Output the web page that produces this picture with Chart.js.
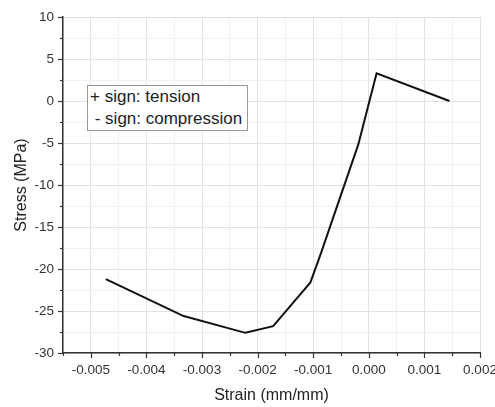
<!DOCTYPE html>
<html>
<head>
<meta charset="utf-8">
<script src="https://cdn.jsdelivr.net/npm/chart.js@4/dist/chart.umd.min.js"></script>
<style>
  html, body { margin: 0; padding: 0; background: #fff; overflow: hidden; }
  #wrap { position: relative; width: 495px; height: 407px; }
  #note {
    position: absolute; left: 87px; top: 85px; width: 157px; height: 44px;
    border: 1px solid #999; background: #fff;
    font-family: "Liberation Sans", Arial, sans-serif; font-size: 17px; line-height: 22px;
    color: #222; white-space: pre; padding-left: 2px; box-sizing: content-box;
  }
</style>
</head>
<body>
<div id="wrap">
  <canvas id="c" width="495" height="407"></canvas>
  <div id="note">+ sign: tension
 - sign: compression</div>
</div>
<script>
const strain = [-0.00473, -0.00333, -0.00222, -0.00172, -0.00105, -0.00086, -0.00019, 0.00014, 0.00145];
const stress = [-21.2, -25.6, -27.6, -26.8, -21.6, -18.1, -5.2, 3.3, 0.0];
const xMin = -0.0055, xMax = 0.002, xStep = 0.0005, xMajor = 0.001;
const yMin = -30, yMax = 10, yStep = 2.5, yMajor = 5;
const xTitle = 'Strain (mm/mm)';
const yTitle = 'Stress (MPa)';

const FONT = '"Liberation Sans", Arial, sans-serif';
const isMajor = (v, m) => Math.abs(v / m - Math.round(v / m)) < 1e-6;

const tickPlugin = {
  id: 'outTicks',
  afterDraw(chart) {
    const ctx = chart.ctx, a = chart.chartArea;
    ctx.save();
    ctx.strokeStyle = '#333';
    ctx.lineWidth = 1.2;
    const xs = chart.scales.x, ys = chart.scales.y;
    xs.ticks.forEach(t => {
      const p = Math.round(xs.getPixelForValue(t.value)) + 0.5;
      const len = isMajor(t.value, xMajor) ? 5 : 3;
      ctx.beginPath(); ctx.moveTo(p, a.bottom); ctx.lineTo(p, a.bottom + len); ctx.stroke();
    });
    ys.ticks.forEach(t => {
      const p = Math.round(ys.getPixelForValue(t.value)) + 0.5;
      const len = isMajor(t.value, yMajor) ? 5 : 3;
      ctx.beginPath(); ctx.moveTo(a.left, p); ctx.lineTo(a.left - len, p); ctx.stroke();
    });
    ctx.restore();
  }
};

new Chart(document.getElementById('c'), {
  type: 'scatter',
  data: {
    datasets: [{
      data: strain.map((x, i) => ({ x: x, y: stress[i] })),
      showLine: true,
      borderColor: '#111',
      borderWidth: 2,
      pointRadius: 0,
      tension: 0,
      fill: false
    }]
  },
  options: {
    responsive: false,
    animation: false,
    layout: { padding: { top: 17, right: 15, left: 0, bottom: 0 } },
    plugins: { legend: { display: false }, tooltip: { enabled: false } },
    scales: {
      x: {
        type: 'linear', min: xMin, max: xMax,
        afterFit(s) { s.height = 54; s.paddingLeft = 0; s.paddingRight = 0; },
        ticks: {
          stepSize: xStep, autoSkip: false, maxRotation: 0, padding: 9,
          color: '#333', font: { family: FONT, size: 13.5 },
          callback: v => isMajor(v, xMajor) ? (Math.abs(v) < 1e-9 ? '0.000' : v.toFixed(3)) : ''
        },
        grid: {
          drawTicks: false,
          color: c => (c.tick && isMajor(c.tick.value, xMajor)) ? '#e2e2e2' : '#f0f0f0',
          lineWidth: 1
        },
        border: { display: true, color: '#333', width: 1.5 },
        title: { display: true, text: xTitle, color: '#222', font: { family: FONT, size: 16 }, padding: { top: 2, bottom: 2 } }
      },
      y: {
        type: 'linear', min: yMin, max: yMax,
        afterFit(s) { s.width = 63; s.paddingTop = 0; s.paddingBottom = 0; },
        ticks: {
          stepSize: yStep, autoSkip: false, padding: 9,
          color: '#333', font: { family: FONT, size: 13.5 },
          callback: v => isMajor(v, yMajor) ? String(Math.round(v)) : ''
        },
        grid: {
          drawTicks: false,
          color: c => (c.tick && isMajor(c.tick.value, yMajor)) ? '#e2e2e2' : '#f0f0f0',
          lineWidth: 1
        },
        border: { display: true, color: '#333', width: 1.5 },
        title: { display: true, text: yTitle, color: '#222', font: { family: FONT, size: 16 }, padding: { top: 12, bottom: 2 } }
      }
    }
  },
  plugins: [tickPlugin]
});
</script>
</body>
</html>
